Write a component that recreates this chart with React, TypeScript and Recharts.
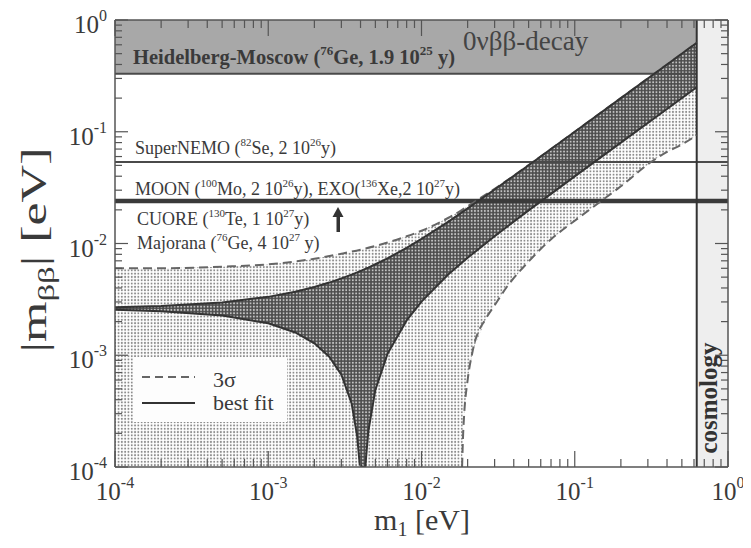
import React from 'react';
import {
  ComposedChart,
  Area,
  Line,
  XAxis,
  YAxis,
  ReferenceArea,
  ReferenceLine,
} from 'recharts';

// lightest neutrino mass m1 [eV] and |m_bb| [eV]
const BF_M1 = [1e-4, 2e-4, 5e-4, 1e-3, 1.5e-3, 2e-3, 2.5e-3, 3e-3, 3.5e-3, 3.8e-3, 3.95e-3, 4.12e-3, 4.3e-3, 4.35e-3, 4.5e-3, 5e-3, 6e-3, 8e-3, 1e-2, 1.5e-2, 2e-2, 3e-2, 5e-2, 0.1, 0.2, 0.4, 0.625];
const BF_UP = [0.00269, 0.00276, 0.00297, 0.00333, 0.0037, 0.00408, 0.00447, 0.00487, 0.00527, 0.00551, 0.00564, 0.00578, 0.00593, 0.00597, 0.00609, 0.00652, 0.00737, 0.00915, 0.011, 0.0157, 0.0206, 0.0304, 0.0502, 0.1, 0.2, 0.4, 0.625];
const BF_LOW = [0.00255, 0.00248, 0.00227, 0.00193, 0.0016, 0.00128, 0.00097, 0.00067, 0.00037, 0.00019, 0.000106, 0.0001, 0.0001, 0.000122, 0.00021, 0.00049, 0.00103, 0.00205, 0.00302, 0.0053, 0.00745, 0.0116, 0.0198, 0.0399, 0.0799, 0.16, 0.25];

const S3_M1 = [1e-4, 2e-4, 5e-4, 1e-3, 1.5e-3, 2e-3, 3e-3, 4e-3, 5e-3, 6e-3, 8e-3, 1e-2, 1.5e-2, 1.84e-2, 1.87e-2, 1.9e-2, 2e-2, 2.16e-2, 2.67e-2, 3e-2, 3.61e-2, 5e-2, 6.89e-2, 0.1, 0.152, 0.2, 0.323, 0.4, 0.5, 0.625];
const S3_UP = [0.006, 0.006, 0.0062, 0.0065, 0.0069, 0.0073, 0.0081, 0.0088, 0.0095, 0.0102, 0.0116, 0.013, 0.017, 0.02, 0.0203, 0.0206, 0.0215, 0.023, 0.0278, 0.0308, 0.0366, 0.0503, 0.069, 0.1001, 0.152, 0.2, 0.323, 0.4, 0.5, 0.625];
const S3_LOW = [1e-4, 1e-4, 1e-4, 1e-4, 1e-4, 1e-4, 1e-4, 1e-4, 1e-4, 1e-4, 1e-4, 1e-4, 1e-4, 1e-4, 0.0002, 0.0003, 0.0006, 0.0011, 0.0022, 0.0028, 0.0041, 0.0069, 0.0107, 0.016, 0.0245, 0.0325, 0.055, 0.066, 0.077, 0.093];
const S3_CUSP = 1.84e-2;

// experimental sensitivities
const HM_LIMIT = 0.33;
const SUPERNEMO = 0.0535;
const MOON_EXO = 0.024;
const COSMO = 0.625;

const DECADES = [-4, -3, -2, -1, 0];
const TICKS = DECADES.flatMap((d) =>
  d === 0 ? [1] : [1, 2, 3, 4, 5, 6, 7, 8, 9].map((k) => k * Math.pow(10, d))
);

const bfData = BF_M1.map((m, i) => ({ m, up: BF_UP[i], low: BF_LOW[i], band: [BF_LOW[i], BF_UP[i]] }));
const s3Data = S3_M1.map((m, i) => ({ m, up: S3_UP[i], low: S3_LOW[i], band: [S3_LOW[i], S3_UP[i]] }));
const s3LowLine = s3Data.filter((d) => d.m >= S3_CUSP);

const FONT = '"Liberation Serif", "DejaVu Serif", "Times New Roman", serif';
const AX = '#555';
const TXT = '#3a3a3a';

const isMajor = (v: number) => Math.abs(Math.log10(v) - Math.round(Math.log10(v))) < 1e-6;
const expOf = (v: number) => String(Math.round(Math.log10(v)));

const BottomTick = (p: any) => {
  const v = p.payload.value;
  const major = isMajor(v);
  return (
    <g>
      <line x1={p.x} x2={p.x} y1={p.y} y2={p.y - (major ? 16 : 8)} stroke={AX} strokeWidth={1.2} />
      {major && (
        <text x={p.x} y={p.y + 33} textAnchor="middle" fontFamily={FONT} fontSize={25} fill={TXT}>
          <tspan>10</tspan>
          <tspan dy={-12} fontSize={16}>{expOf(v)}</tspan>
        </text>
      )}
    </g>
  );
};

const TopTick = (p: any) => {
  const major = isMajor(p.payload.value);
  return <line x1={p.x} x2={p.x} y1={p.y} y2={p.y + (major ? 16 : 8)} stroke={AX} strokeWidth={1.2} />;
};

const LeftTick = (p: any) => {
  const v = p.payload.value;
  const major = isMajor(v);
  return (
    <g>
      <line x1={p.x} x2={p.x + (major ? 13 : 7)} y1={p.y} y2={p.y} stroke={AX} strokeWidth={1.2} />
      {major && (
        <text x={p.x - 8} y={p.y + 13} textAnchor="end" fontFamily={FONT} fontSize={25} fill={TXT}>
          <tspan>10</tspan>
          <tspan dy={-12} fontSize={16}>{expOf(v)}</tspan>
        </text>
      )}
    </g>
  );
};

const RightTick = (p: any) => {
  const major = isMajor(p.payload.value);
  return <line x1={p.x} x2={p.x - (major ? 13 : 7)} y1={p.y} y2={p.y} stroke={AX} strokeWidth={1.2} />;
};

// label made of normal ('n') and superscript ('s') pieces
type Piece = [string, string];
const Label = ({ x, y, pieces, size, bold }: { x: number; y: number; pieces: Piece[]; size: number; bold?: boolean }) => {
  const sup = Math.round(size * 0.62);
  const lift = Math.round(size * 0.42);
  let up = false;
  return (
    <text x={x} y={y} fontFamily={FONT} fontSize={size} fontWeight={bold ? 'bold' : 'normal'} fill={TXT}>
      {pieces.map(([kind, s], i) => {
        let dy = 0;
        if (kind === 's' && !up) { dy = -lift; up = true; }
        else if (kind === 'n' && up) { dy = lift; up = false; }
        return (
          <tspan key={i} dy={dy} fontSize={kind === 's' ? sup : size}>{s}</tspan>
        );
      })}
    </text>
  );
};

const HM_TEXT: Piece[] = [['n', 'Heidelberg-Moscow ('], ['s', '76'], ['n', 'Ge, 1.9 10'], ['s', '25'], ['n', ' y)']];
const SN_TEXT: Piece[] = [['n', 'SuperNEMO ('], ['s', '82'], ['n', 'Se, 2 10'], ['s', '26'], ['n', 'y)']];
const MOON_TEXT: Piece[] = [['n', 'MOON ('], ['s', '100'], ['n', 'Mo, 2 10'], ['s', '26'], ['n', 'y), EXO('], ['s', '136'], ['n', 'Xe,2 10'], ['s', '27'], ['n', 'y)']];
const CUORE_TEXT: Piece[] = [['n', 'CUORE ('], ['s', '130'], ['n', 'Te, 1 10'], ['s', '27'], ['n', 'y)']];
const MAJ_TEXT: Piece[] = [['n', 'Majorana ('], ['s', '76'], ['n', 'Ge, 4 10'], ['s', '27'], ['n', ' y)']];

const W = 743;
const H = 540;

export default function App() {
  return (
    <div style={{ position: 'relative', width: W, height: H, marginBottom: -8, background: '#fff' }}>
      <ComposedChart width={W} height={H} margin={{ top: 11, right: 22, bottom: 80, left: 106 }}>
        <XAxis
          xAxisId="b" type="number" dataKey="m" scale="log" domain={[1e-4, 1]} allowDataOverflow
          ticks={TICKS} interval={0} height={1} tickSize={0} tickMargin={0} tickLine={false}
          axisLine={{ stroke: AX, strokeWidth: 1.5 }} tick={<BottomTick />}
        />
        <XAxis
          xAxisId="t" orientation="top" type="number" dataKey="m" scale="log" domain={[1e-4, 1]} allowDataOverflow
          ticks={TICKS} interval={0} height={1} tickSize={0} tickMargin={0} tickLine={false}
          axisLine={{ stroke: AX, strokeWidth: 1.5 }} tick={<TopTick />}
        />
        <YAxis
          yAxisId="l" type="number" scale="log" domain={[1e-4, 1]} allowDataOverflow
          ticks={TICKS} interval={0} width={1} tickSize={0} tickMargin={0} tickLine={false}
          axisLine={{ stroke: AX, strokeWidth: 1.5 }} tick={<LeftTick />}
        />
        <YAxis
          yAxisId="r" orientation="right" type="number" scale="log" domain={[1e-4, 1]} allowDataOverflow
          ticks={TICKS} interval={0} width={1} tickSize={0} tickMargin={0} tickLine={false}
          axisLine={{ stroke: AX, strokeWidth: 1.5 }} tick={<RightTick />}
        />

        <ReferenceArea xAxisId="b" yAxisId="l" x1={COSMO} x2={1} y1={1e-4} y2={1} fill="#eeeeee" fillOpacity={1} stroke="none" />
        <ReferenceArea xAxisId="b" yAxisId="l" x1={1e-4} x2={COSMO} y1={HM_LIMIT} y2={1} fill="#a8a8a8" fillOpacity={1} stroke="none" />

        <Area xAxisId="b" yAxisId="l" data={s3Data} dataKey="band" type="linear" fill="url(#lightDots)" fillOpacity={1} stroke="none" isAnimationActive={false} dot={false} activeDot={false} />
        <Area xAxisId="b" yAxisId="l" data={bfData} dataKey="band" type="linear" fill="url(#darkDots)" fillOpacity={1} stroke="none" isAnimationActive={false} dot={false} activeDot={false} />

        <ReferenceLine xAxisId="b" yAxisId="l" segment={[{ x: 1e-4, y: HM_LIMIT }, { x: COSMO, y: HM_LIMIT }]} stroke="#4a4a4a" strokeWidth={2} />
        <ReferenceLine xAxisId="b" yAxisId="l" y={SUPERNEMO} stroke="#4a4a4a" strokeWidth={2} />
        <ReferenceLine xAxisId="b" yAxisId="l" y={MOON_EXO} stroke="#3a3a3a" strokeWidth={4.5} />
        <ReferenceLine xAxisId="b" yAxisId="l" x={COSMO} stroke="#333" strokeWidth={2} />

        <Line xAxisId="b" yAxisId="l" data={s3Data} dataKey="up" type="monotone" stroke="#666" strokeWidth={2} strokeDasharray="9 5" dot={false} activeDot={false} isAnimationActive={false} />
        <Line xAxisId="b" yAxisId="l" data={s3LowLine} dataKey="low" type="monotone" stroke="#666" strokeWidth={2} strokeDasharray="9 5" dot={false} activeDot={false} isAnimationActive={false} />
        <Line xAxisId="b" yAxisId="l" data={bfData} dataKey="up" type="linear" stroke="#333" strokeWidth={2} dot={false} activeDot={false} isAnimationActive={false} />
        <Line xAxisId="b" yAxisId="l" data={bfData} dataKey="low" type="linear" stroke="#333" strokeWidth={2} dot={false} activeDot={false} isAnimationActive={false} />
      </ComposedChart>

      <svg width={W} height={H} style={{ position: 'absolute', left: 0, top: 0, pointerEvents: 'none' }}>
        <defs>
          <pattern id="lightDots" patternUnits="userSpaceOnUse" width={3.3} height={3.3}>
            <rect width={3.3} height={3.3} fill="#ffffff" />
            <circle cx={1.65} cy={1.65} r={1.0} fill="#8c8c8c" />
          </pattern>
          <pattern id="darkDots" patternUnits="userSpaceOnUse" width={3.3} height={3.3}>
            <rect width={3.3} height={3.3} fill="#4c4c4c" />
            <circle cx={1.65} cy={1.65} r={1.0} fill="#c4c4c4" />
          </pattern>
        </defs>

        <Label x={125} y={56} pieces={HM_TEXT} size={20.5} bold />
        <text x={455} y={42} fontFamily={FONT} fontSize={27} fill="#444">0νββ-decay</text>
        <Label x={127} y={146} pieces={SN_TEXT} size={18} />
        <Label x={127} y={187} pieces={MOON_TEXT} size={18} />
        <Label x={129} y={217} pieces={CUORE_TEXT} size={18} />
        <Label x={129} y={241} pieces={MAJ_TEXT} size={18} />

        <rect x={328.5} y={208} width={3.5} height={16} fill="#333" />
        <polygon points="324.5,209 335.5,209 330,199" fill="#333" />

        <text transform="translate(709,390) rotate(-90)" textAnchor="middle" fontFamily={FONT} fontSize={25} fontWeight="bold" fill="#333">cosmology</text>

        <rect x={125} y={349} width={154} height={65} fill="#fdfdfd" />
        <line x1={134} x2={187} y1={369} y2={369} stroke="#666" strokeWidth={2} strokeDasharray="8 5" />
        <text x={205} y={379} fontFamily={FONT} fontSize={22} fill={TXT}>3σ</text>
        <line x1={134} x2={187} y1={395} y2={395} stroke="#333" strokeWidth={2} />
        <text x={205} y={402} fontFamily={FONT} fontSize={22} fill={TXT}>best fit</text>

        <text transform="translate(38,242) rotate(-90)" textAnchor="middle" fontFamily={FONT} fontSize={36} fill={TXT} textLength={205} lengthAdjust="spacingAndGlyphs">
          |m<tspan dy={8} fontSize={24}>ββ</tspan><tspan dy={-8}>| [eV]</tspan>
        </text>
        <text x={414} y={522} textAnchor="middle" fontFamily={FONT} fontSize={30} fill={TXT}>
          m<tspan dy={6} fontSize={20}>1</tspan><tspan dy={-6}> [eV]</tspan>
        </text>
      </svg>
    </div>
  );
}
